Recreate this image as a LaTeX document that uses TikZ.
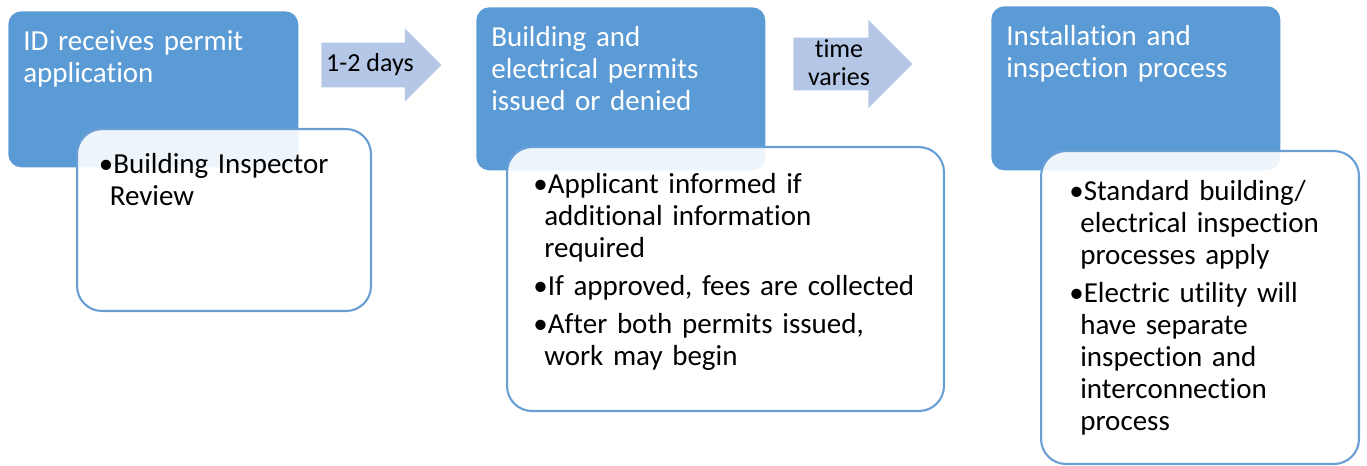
\documentclass[tikz,border=0pt]{standalone}
\usepackage{fontspec}
\setmainfont{Carlito}[Ligatures=NoCommon]
\usetikzlibrary{positioning, shapes.arrows}
\definecolor{stageblue}{HTML}{5B9BD5}
\definecolor{arrowblue}{HTML}{B4C7E7}
\definecolor{lineblue}{HTML}{6A9FD6}
\newcommand{\bitem}[1]{\noindent\hangindent=0.22cm\hangafter=1\strut\textbullet#1\par}
\tikzstyle{stagebox} = [rectangle, rounded corners=0.26cm, fill=stageblue, anchor=north west, inner sep=0pt]
\tikzstyle{detailbox} = [rectangle, rounded corners=0.5cm, draw=lineblue, line width=1.2pt, fill=white, fill opacity=0.9, anchor=north west, inner sep=0pt]
\tikzstyle{stagetext} = [text=white, font=\fontsize{16.5}{18.2}\selectfont, text width=5.4cm, align=left, inner sep=0pt]
\tikzstyle{detailtext} = [text=black, font=\fontsize{16.5}{18.2}\selectfont, align=left, inner sep=0pt]
\tikzstyle{steparrow} = [single arrow, fill=arrowblue, shape border rotate=0, single arrow tip angle=90, inner xsep=0pt, anchor=tail]
\tikzstyle{arrowtext} = [font=\fontsize{14.8}{15.9}\selectfont, align=center, inner sep=0pt]

\begin{document}
\begin{tikzpicture}[x=0.02cm, y=-0.02cm]
\useasboundingbox (0,0) rectangle (1367,466);

% stage 1
\node (b1) [stagebox, minimum width=5.8cm, minimum height=3.12cm] at (8,11) {};
\node (s1) [stagetext, below right=0.33cm and 0.3cm of b1.north west] {\strut ID receives permit\\application};
\node (w1) [detailbox, minimum width=5.88cm, minimum height=3.64cm] at (76,128) {};
\node (d1) [detailtext, text width=5.2cm, below right=0.45cm and 0.45cm of w1.north west] {\bitem{Building Inspector\newline Review}};

% arrow 1
\node (a1) [steparrow, minimum height=2.4cm, inner ysep=0.44cm, single arrow head extend=0.28cm] at (321,65) {};
\node (l1) [arrowtext, anchor=base] at ([xshift=0.98cm, yshift=-0.14cm]a1.tail) {1-2 days};

% stage 2
\node (b2) [stagebox, minimum width=5.78cm, minimum height=3.26cm] at (476,7) {};
\node (s2) [stagetext, below right=0.33cm and 0.3cm of b2.north west] {\strut Building and\\electrical permits\\issued or denied};
\node (w2) [detailbox, minimum width=8.74cm, minimum height=5.28cm] at (506,146) {};
\node (d2) [detailtext, text width=8cm, below right=0.49cm and 0.54cm of w2.north west] {\bitem{Applicant informed if\newline additional information\newline required}\vspace{0.12cm}\bitem{If approved, fees are collected}\vspace{0.12cm}\bitem{After both permits issued,\newline work may begin}};

% arrow 2
\node (a2) [steparrow, minimum height=2.38cm, inner ysep=0.52cm, single arrow head extend=0.35cm] at (793,64) {};
\node (l2) [arrowtext, anchor=north] at ([xshift=0.92cm, yshift=0.53cm]a2.tail) {\strut time\\varies};

% stage 3
\node (b3) [stagebox, minimum width=5.78cm, minimum height=3.28cm] at (991,6) {};
\node (s3) [stagetext, below right=0.33cm and 0.3cm of b3.north west] {\strut Installation and\\inspection process};
\node (w3) [detailbox, minimum width=6.36cm, minimum height=6.26cm] at (1040,150) {};
\node (d3) [detailtext, text width=5.8cm, below right=0.55cm and 0.58cm of w3.north west] {\bitem{Standard building/\newline electrical inspection\newline processes apply}\vspace{0.12cm}\bitem{Electric utility will\newline have separate\newline inspection and\newline interconnection\newline process}};

\end{tikzpicture}
\end{document}
